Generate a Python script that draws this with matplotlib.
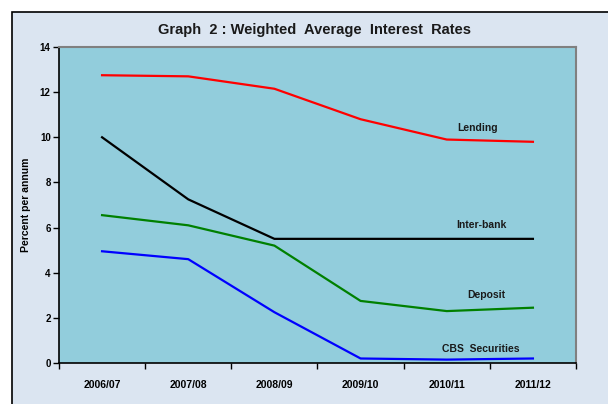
import matplotlib.pyplot as plt
from matplotlib.patches import Rectangle

plt.rcParams['font.family'] = ['Liberation Sans', 'DejaVu Sans']

# Data
years = ["2006/07", "2007/08", "2008/09", "2009/10", "2010/11", "2011/12"]
lending = [12.75, 12.7, 12.15, 10.8, 9.9, 9.8]
interbank = [10.0, 7.25, 5.5, 5.5, 5.5, 5.5]
deposit = [6.55, 6.1, 5.2, 2.75, 2.3, 2.45]
cbs = [4.95, 4.6, 2.25, 0.2, 0.15, 0.2]

fig = plt.figure(figsize=(6.08, 4.04), dpi=100)
fig.patch.set_facecolor("white")

# Outer chart frame (drawn behind the axes)
frame = Rectangle((12 / 608, -0.02), 1.0, 1 - 12 / 404 + 0.02, transform=fig.transFigure,
                  facecolor="#DBE5F1", edgecolor="black", linewidth=1.2, zorder=-1)
fig.add_artist(frame)

ax = fig.add_axes([59 / 608, 1 - 363 / 404, (576 - 59) / 608, (363 - 47) / 404])
ax.set_facecolor("#92CDDC")

x = list(range(len(years)))
ax.plot(x, lending, color="red", linewidth=1.6)
ax.plot(x, interbank, color="black", linewidth=1.6)
ax.plot(x, deposit, color="green", linewidth=1.6)
ax.plot(x, cbs, color="blue", linewidth=1.6)

# Series labels
labelStyle = dict(fontsize=7.5, fontweight="bold", ha="center", va="center", color="#1a1a1a")
ax.text(4.36, 10.4, "Lending", **labelStyle)
ax.text(4.40, 6.1, "Inter-bank", **labelStyle)
ax.text(4.46, 3.0, "Deposit", **labelStyle)
ax.text(4.39, 0.6, "CBS  Securities", **labelStyle)

ax.set_xlim(-0.5, 5.5)
ax.set_ylim(0, 14)
ax.set_yticks(range(0, 15, 2))
ax.set_xticks([i - 0.5 for i in range(len(years) + 1)])
ax.set_xticklabels([])
ax.set_xticks(x, minor=True)
ax.set_xticklabels(years, minor=True)
ax.tick_params(axis="x", which="minor", length=0, pad=12, labelsize=7.5)
ax.tick_params(axis="x", which="major", length=4, width=1, direction="out")
ax.tick_params(axis="y", length=4, width=1, direction="out", labelsize=7, pad=2)
for lbl in ax.get_xticklabels(minor=True) + ax.get_yticklabels():
    lbl.set_fontweight("bold")

ax.spines["left"].set_color("black")
ax.spines["bottom"].set_color("black")
ax.spines["left"].set_linewidth(1.2)
ax.spines["bottom"].set_linewidth(1.2)
ax.spines["top"].set_color("#808080")
ax.spines["right"].set_color("#808080")
ax.spines["top"].set_linewidth(1.5)
ax.spines["right"].set_linewidth(1.5)

ax.set_ylabel("Percent per annum", fontsize=7.5, fontweight="bold", labelpad=6)
fig.text(314 / 608, 1 - 30 / 404, "Graph  2 : Weighted  Average  Interest  Rates",
         fontsize=10.5, fontweight="bold", ha="center", va="center", color="#1a1a1a")

plt.savefig("out.png", dpi=100, facecolor=fig.get_facecolor())
